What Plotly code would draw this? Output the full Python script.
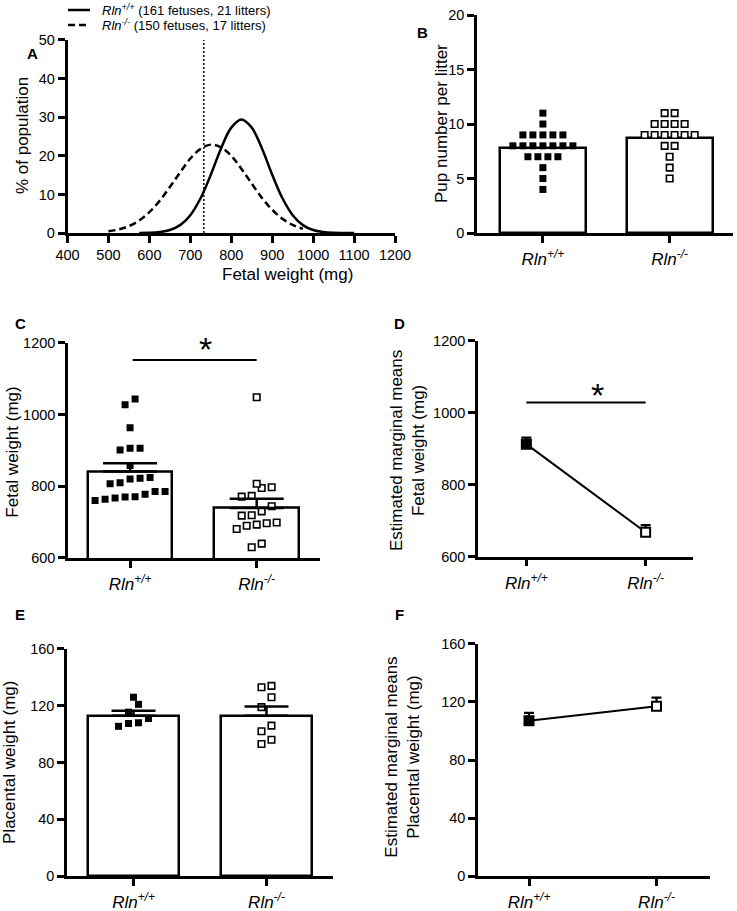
import plotly.graph_objects as go

W, H = 737, 911
FONT = "Arial, Liberation Sans, Helvetica, sans-serif"

# ---------------- data ----------------
CATS = ["<i>Rln<sup>+/+</sup></i>", "<i>Rln<sup>-/-</sup></i>"]
LEGEND_WT = "<i>Rln<sup>+/+</sup></i> (161 fetuses, 21 litters)"
LEGEND_KO = "<i>Rln<sup>-/-</sup></i> (150 fetuses, 17 litters)"

# Panel A: distribution curves (% of population)
A_WT_X = [575, 600, 625, 650, 675, 700, 725, 750, 775, 800, 825, 850,
          875, 900, 925, 950, 975, 1000, 1025, 1050, 1075, 1100]
A_WT_Y = [0.02, 0.07, 0.26, 0.78, 2.05, 4.63, 9.0, 15.1, 21.9, 27.3, 29.4, 27.3,
          21.9, 15.1, 9.0, 4.63, 2.05, 0.78, 0.26, 0.07, 0.02, 0.0]
A_KO_X = [500, 525, 550, 575, 600, 625, 650, 675, 700, 725, 750, 775,
          800, 825, 850, 875, 900, 925, 950, 975]
A_KO_Y = [0.44, 0.93, 1.80, 3.24, 5.40, 8.33, 11.9, 15.7, 19.3, 21.8, 22.9, 22.2,
          20.0, 16.6, 12.8, 9.1, 6.03, 3.69, 2.09, 1.09]
A_CUTOFF = 733

# Panel B: pup number per litter
B_WT = [11, 10, 9, 9, 9, 9, 9, 8, 8, 8, 8, 8, 8, 8, 7, 7, 7, 7, 6, 5, 4]
B_KO = [11, 11, 10, 10, 10, 10, 9, 9, 9, 9, 9, 9, 8, 8, 7, 6, 5]
B_MEANS = [7.8, 8.7]

# Panel C: fetal weight (mg), litter means
C_WT = [1043, 1027, 963, 906, 901, 906, 858, 822, 810, 807, 820, 824,
        785, 771, 767, 760, 764, 770, 778, 785]
C_KO = [1048, 797, 807, 795, 773, 771, 744, 730, 718, 719, 697, 690,
        681, 693, 699, 630, 640]
C_MEANS = [841, 739]
C_SEM = [23, 26]
C_SIG_Y = 1152

# Panel D: estimated marginal means, fetal weight
D_MEANS = [913, 668]
D_SEM = [18, 20]
D_SIG_Y = 1029

# Panel E: placental weight (mg)
E_WT = [126, 121, 115.5, 111, 108, 105.5, 107.5]
E_KO = [134, 133, 126, 119, 106, 102, 96, 93]
E_MEANS = [113, 113]
E_SEM = [3.5, 6.5]

# Panel F: estimated marginal means, placental weight
F_MEANS = [107, 117]
F_SEM = [5.5, 6]

# ---------------- layout geometry ----------------
DOM = {
    1: ([0.0916, 0.536], [0.7442, 0.9561], [400, 1200], [0, 50]),
    2: ([0.6472, 0.9946], [0.7442, 0.9835], [-0.52, 1.5], [0, 20]),
    3: ([0.0923, 0.4342], [0.3875, 0.6238], [-0.49, 1.5], [600, 1200]),
    4: ([0.6486, 0.9403], [0.3889, 0.6257], [-0.405, 1.397], [600, 1200]),
    5: ([0.0909, 0.4518], [0.0384, 0.2876], [-0.5, 1.5], [0, 160]),
    6: ([0.6486, 0.9634], [0.0384, 0.2931], [-0.4, 1.42], [0, 160]),
}


def px_per_unit(k):
    xd, yd, xr, yr = DOM[k]
    return ((xd[1] - xd[0]) * W / (xr[1] - xr[0]),
            (yd[1] - yd[0]) * H / (yr[1] - yr[0]))


def swarm(values, center, k, bin_px=10.5, step_px=10.0):
    pxx, pxy = px_per_unit(k)
    bin_u = bin_px / pxy
    step_u = step_px / pxx
    rows = []
    for v in sorted(values):
        if rows and v - rows[-1][0] < bin_u:
            rows[-1].append(v)
        else:
            rows.append([v])
    xs, ys = [], []
    for row in rows:
        n = len(row)
        for i, v in enumerate(row):
            xs.append(center + (i - (n - 1) / 2) * step_u)
            ys.append(v)
    return xs, ys


fig = go.Figure()
LW = 2.5


def ax(k):
    return ("x" if k == 1 else f"x{k}"), ("y" if k == 1 else f"y{k}")


FILLED = dict(symbol="square", size=7, color="black", line=dict(width=0))
OPEN = dict(symbol="square", size=6.5, color="white", line=dict(color="black", width=1.6))

# ---- Panel A ----
fig.add_trace(go.Scatter(x=A_WT_X, y=A_WT_Y, mode="lines", name=LEGEND_WT,
                         line=dict(color="black", width=LW, shape="spline"),
                         xaxis="x", yaxis="y", showlegend=False))
fig.add_trace(go.Scatter(x=A_KO_X, y=A_KO_Y, mode="lines", name=LEGEND_KO,
                         line=dict(color="black", width=LW, dash="7px,4px", shape="spline"),
                         xaxis="x", yaxis="y", showlegend=False))
fig.add_shape(type="line", xref="x", yref="y domain", x0=A_CUTOFF, x1=A_CUTOFF,
              y0=0, y1=1, line=dict(color="black", width=1.5, dash="2px,2px"))


# ---- bar panels with dots ----
def bar_panel(k, wt, ko, means, sem=None, cap=24, width=0.68):
    xa, ya = ax(k)
    fig.add_trace(go.Bar(x=[0, 1], y=means, width=width, xaxis=xa, yaxis=ya,
                         marker=dict(color="white", line=dict(color="black", width=LW)),
                         showlegend=False))
    xs, ys = swarm(wt, 0, k)
    fig.add_trace(go.Scatter(x=xs, y=ys, mode="markers", marker=FILLED,
                             xaxis=xa, yaxis=ya, showlegend=False))
    xs, ys = swarm(ko, 1, k)
    fig.add_trace(go.Scatter(x=xs, y=ys, mode="markers", marker=OPEN,
                             xaxis=xa, yaxis=ya, showlegend=False))
    if sem is not None:
        fig.add_trace(go.Scatter(x=[0, 1], y=means, mode="markers",
                                 marker=dict(size=1, color="rgba(0,0,0,0)"),
                                 error_y=dict(type="data", array=sem, arrayminus=[0, 0],
                                              symmetric=False, color="black",
                                              thickness=LW, width=cap),
                                 xaxis=xa, yaxis=ya, showlegend=False))


bar_panel(2, B_WT, B_KO, B_MEANS, width=0.68)
bar_panel(3, C_WT, C_KO, C_MEANS, C_SEM, cap=27, width=0.67)
bar_panel(5, E_WT, E_KO, E_MEANS, E_SEM, cap=22, width=0.69)


# ---- line panels (marginal means) ----
def line_panel(k, means, sem):
    xa, ya = ax(k)
    fig.add_trace(go.Scatter(x=[0, 1], y=means, mode="lines+markers",
                             line=dict(color="black", width=2),
                             marker=dict(symbol="square", size=9, color=["black", "white"],
                                         line=dict(color="black", width=2)),
                             error_y=dict(type="data", array=sem, arrayminus=[0, 0],
                                          symmetric=False, color="black",
                                          thickness=2.2, width=5),
                             xaxis=xa, yaxis=ya, showlegend=False))


line_panel(4, D_MEANS, D_SEM)
line_panel(6, F_MEANS, F_SEM)

# significance bars
fig.add_shape(type="line", xref="x3", yref="y3", x0=0.02, x1=1.0, y0=C_SIG_Y, y1=C_SIG_Y,
              line=dict(color="black", width=2))
fig.add_shape(type="line", xref="x4", yref="y4", x0=0.0, x1=1.0, y0=D_SIG_Y, y1=D_SIG_Y,
              line=dict(color="black", width=2))

# legend keys (panel A), drawn as paper-referenced line samples
fig.add_shape(type="line", xref="paper", yref="paper", x0=68 / W, x1=90 / W,
              y0=1 - 10 / H, y1=1 - 10 / H, line=dict(color="black", width=LW))
fig.add_shape(type="line", xref="paper", yref="paper", x0=68 / W, x1=90 / W,
              y0=1 - 25 / H, y1=1 - 25 / H, line=dict(color="black", width=LW, dash="7px,4px"))

# ---------------- axes ----------------
TICKS = {
    1: (list(range(400, 1201, 100)), [0, 10, 20, 30, 40, 50]),
    2: ([0, 1], [0, 5, 10, 15, 20]),
    3: ([0, 1], [600, 800, 1000, 1200]),
    4: ([0, 1], [600, 800, 1000, 1200]),
    5: ([0, 1], [0, 40, 80, 120, 160]),
    6: ([0, 1], [0, 40, 80, 120, 160]),
}

layout = dict(
    width=W, height=H, margin=dict(l=0, r=0, t=0, b=0, autoexpand=False),
    paper_bgcolor="white", plot_bgcolor="white",
    font=dict(family=FONT, color="black", size=14),
    showlegend=False,
    bargap=0,
)
for k, (xd, yd, xr, yr) in DOM.items():
    xk = "xaxis" if k == 1 else f"xaxis{k}"
    yk = "yaxis" if k == 1 else f"yaxis{k}"
    xt, yt = TICKS[k]
    common = dict(showline=True, linecolor="black", linewidth=LW, ticks="outside",
                  ticklen=7, tickwidth=LW, tickcolor="black", showgrid=False,
                  zeroline=False, fixedrange=True)
    xa = dict(domain=xd, range=xr, tickvals=xt, anchor=("y" if k == 1 else f"y{k}"), **common)
    if k == 1:
        xa.update(tickfont=dict(size=14.5, color="black"))
    else:
        xa.update(ticktext=CATS, tickfont=dict(size=17, color="black"), ticklabelstandoff=2)
    ya = dict(domain=yd, range=yr, tickvals=yt, anchor=("x" if k == 1 else f"x{k}"),
              tickfont=dict(size=14.5, color="black"), **common)
    layout[xk] = xa
    layout[yk] = ya

fig.update_layout(**layout)

# ---------------- text annotations ----------------
ann = []
TXT = dict(family=FONT, color="black")


def ytitle(text, x, y):
    ann.append(dict(text=text, x=x, y=y, xref="paper", yref="paper", showarrow=False,
                    textangle=-90, font=dict(size=17, **TXT), xanchor="center", yanchor="middle"))


ytitle("% of population", 0.0299, 0.8507)
ytitle("Pup number per litter", 0.5997, 0.865)
ytitle("Fetal weight (mg)", 0.0176, 0.5042)
ytitle("Estimated marginal means<br>Fetal weight (mg)", 0.5522, 0.506)
ytitle("Placental weight (mg)", 0.0136, 0.1625)
ytitle("Estimated marginal means<br>Placental weight (mg)", 0.5468, 0.1694)
ann.append(dict(text="Fetal weight (mg)", x=0.2985, y=0.7113, xref="paper", yref="paper",
                showarrow=False, font=dict(size=17, **TXT)))

# legend texts
for txt, py in [(LEGEND_WT, 10), (LEGEND_KO, 25)]:
    ann.append(dict(text=txt, x=100 / W, y=1 - py / H, xref="paper", yref="paper",
                    showarrow=False, xanchor="left", yanchor="middle", font=dict(size=13, **TXT)))

for letter, x, y in [("A", 0.0339, 0.9528), ("B", 0.5726, 0.9758), ("C", 0.0176, 0.6454),
                     ("D", 0.5427, 0.6454), ("E", 0.0176, 0.3139), ("F", 0.5427, 0.3139)]:
    ann.append(dict(text=f"<b>{letter}</b>", x=x, y=y, xref="paper", yref="paper",
                    showarrow=False, font=dict(size=15, **TXT)))

# significance stars
ann.append(dict(text="*", x=197 / W, y=1 - 349 / H, xref="paper", yref="paper",
                showarrow=False, font=dict(size=34, **TXT), yanchor="middle"))
ann.append(dict(text="*", x=0.594, y=1050, xref="x4", yref="y4", showarrow=False,
                font=dict(size=34, **TXT), yanchor="middle"))

fig.update_layout(annotations=ann)
fig.write_html("out.html", config={"displayModeBar": False},
               post_script="document.body.style.margin='0';")
